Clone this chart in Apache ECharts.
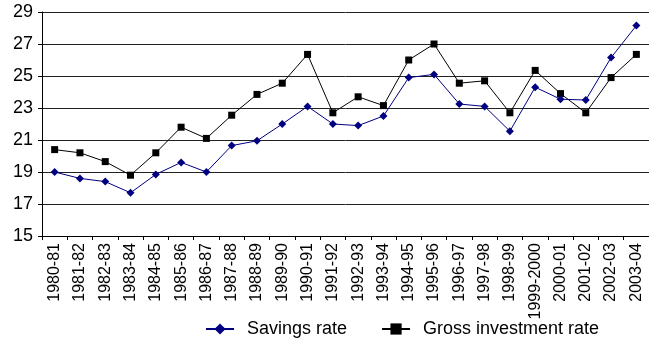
<!DOCTYPE html>
<html>
<head>
<meta charset="utf-8">
<script src="https://cdn.jsdelivr.net/npm/echarts@6/dist/echarts.min.js"></script>
<style>
  html, body { margin: 0; padding: 0; background: #fff; }
  #chart { width: 649px; height: 340px; }
</style>
</head>
<body>
<div id="chart"></div>
<script>
// Fiscal years
const years = [
  '1980-81','1981-82','1982-83','1983-84','1984-85','1985-86','1986-87','1987-88',
  '1988-89','1989-90','1990-91','1991-92','1992-93','1993-94','1994-95','1995-96',
  '1996-97','1997-98','1998-99','1999-2000','2000-01','2001-02','2002-03','2003-04'
];

// Savings rate (% of GDP)
const savingsRate = [
  19.0, 18.6, 18.4, 17.7, 18.85, 19.6, 19.0, 20.65,
  20.95, 22.0, 23.1, 22.0, 21.9, 22.5, 24.9, 25.1,
  23.25, 23.1, 21.55, 24.3, 23.55, 23.5, 26.15, 28.15
];

// Gross investment rate (% of GDP)
const investmentRate = [
  20.4, 20.2, 19.65, 18.8, 20.2, 21.8, 21.1, 22.55,
  23.85, 24.55, 26.35, 22.7, 23.7, 23.15, 26.0, 27.0,
  24.55, 24.7, 22.7, 25.35, 23.9, 22.7, 24.9, 26.35
];

const FONT = '"Liberation Sans", Arial, sans-serif';

const chart = echarts.init(document.getElementById('chart'), null, { renderer: 'canvas' });

chart.setOption({
  animation: false,
  backgroundColor: '#ffffff',
  grid: { left: 42, right: 0, top: 12, bottom: 104, containLabel: false },
  legend: {
    left: 200,
    top: 315,
    itemWidth: 28,
    itemHeight: 14,
    itemGap: 34,
    textStyle: { fontFamily: FONT, fontSize: 18, color: '#000', padding: [0, 0, 0, 8] },
    data: ['Savings rate', 'Gross investment rate']
  },
  xAxis: {
    type: 'category',
    data: years,
    boundaryGap: true,
    axisLine: { lineStyle: { color: '#000', width: 1 } },
    axisTick: { show: true, interval: 0, length: 4, lineStyle: { color: '#000' } },
    axisLabel: {
      interval: 0,
      rotate: 90,
      margin: 7,
      fontFamily: FONT,
      fontSize: 16,
      color: '#000'
    },
    splitLine: { show: false }
  },
  yAxis: {
    type: 'value',
    min: 15,
    max: 29,
    interval: 2,
    axisLine: { show: true, lineStyle: { color: '#000', width: 1 } },
    axisTick: { show: true, length: 4, lineStyle: { color: '#000' } },
    axisLabel: { margin: 9, fontFamily: FONT, fontSize: 18, color: '#000' },
    splitLine: { show: true, lineStyle: { color: '#222', width: 1 } }
  },
  series: [
    {
      name: 'Savings rate',
      type: 'line',
      data: savingsRate,
      symbol: 'diamond',
      symbolSize: 8,
      showAllSymbol: true,
      lineStyle: { color: '#000080', width: 1 },
      itemStyle: { color: '#000080' },
      z: 3
    },
    {
      name: 'Gross investment rate',
      type: 'line',
      data: investmentRate,
      symbol: 'rect',
      symbolSize: 7,
      showAllSymbol: true,
      lineStyle: { color: '#000', width: 1 },
      itemStyle: { color: '#000' },
      z: 2
    }
  ]
});
</script>
</body>
</html>
